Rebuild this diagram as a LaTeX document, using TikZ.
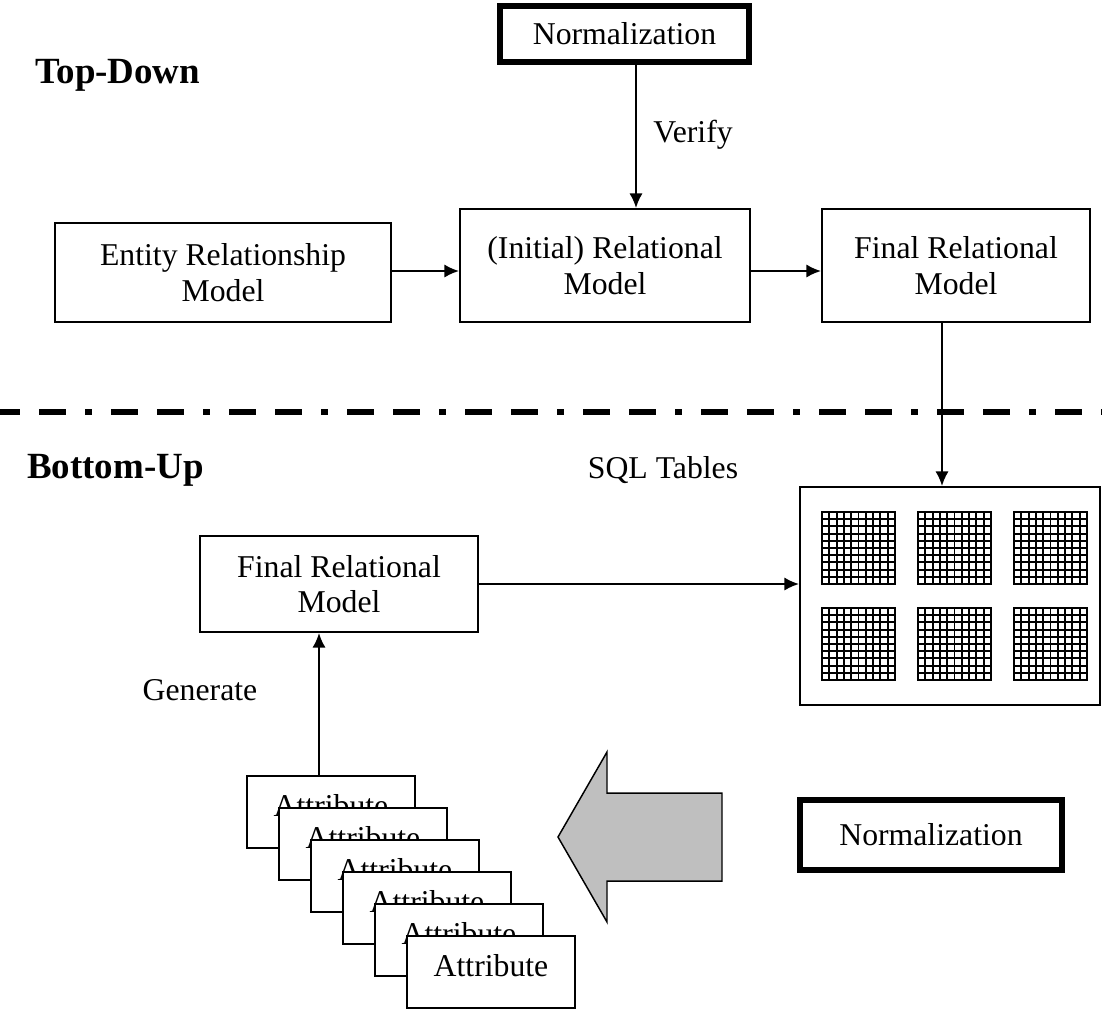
\documentclass[tikz,border=0pt]{standalone}
\usepackage{fontspec}
\setmainfont{Liberation Serif}
\usetikzlibrary{positioning,arrows.meta}
\tikzset{mybox/.style={draw,line width=1.5pt,align=center,inner sep=0pt,font=\fontsize{23.8}{26.5}\selectfont} }
\tikzset{normbox/.style={mybox,line width=4.5pt} }
\tikzset{attbox/.style={mybox,fill=white,minimum width=126pt,minimum height=54pt,text height=15.7pt,text depth=9.7pt} }
\tikzset{biglabel/.style={inner sep=0pt,anchor=west,font=\fontsize{27.7}{30}\selectfont\bfseries} }
\tikzset{lbl/.style={inner sep=0pt,font=\fontsize{23.8}{26.5}\selectfont} }
\tikzset{arr/.style={-{Latex[length=11pt,width=10pt]},line width=1.5pt} }
\tikzset{gridline/.style={line width=1.4pt,black} }

\begin{document}
\begin{tikzpicture}[x=0.75pt,y=-0.75pt]
    \useasboundingbox (0,0) rectangle (1102,1008);
    % top-down part
    \node[biglabel] (topdown) at (35,75) {Top-Down};
    \node[normbox,minimum width=186.75pt,minimum height=42pt] (normtop) at (624.5,34) {Normalization};
    \node[mybox,minimum width=252pt,minimum height=74.25pt] (er) at (223,272.5) {Entity Relationship\\Model};
    \node[mybox,minimum width=217.5pt,minimum height=84.75pt] (init) at (605,265.5) {(Initial) Relational\\Model};
    \node[mybox,minimum width=201pt,minimum height=84.75pt] (finaltop) at (956,265.5) {Final Relational\\Model};
    \node[lbl] (verify) at (693,135) {Verify};
    \coordinate (vx) at (636,0);
    \coordinate (sx) at (942,0);
    \coordinate (ay) at (0,271);
    \draw[arr] (normtop.south -| vx) -- (init.north -| vx);
    \draw[arr] (er.east |- ay) -- (init.west |- ay);
    \draw[arr] (init.east |- ay) -- (finaltop.west |- ay);
    % separator
    \draw[line width=4.5pt,dash pattern=on 20.25pt off 14.25pt on 20.25pt off 14.25pt on 5.25pt off 14.25pt,dash phase=5pt] (0,412) -- (1102,412);
    % bottom-up part
    \node[biglabel] (bottomup) at (27,470) {Bottom-Up};
    \node[lbl] (sqllbl) at (663,470) {SQL Tables};
    \node[mybox,minimum width=225pt,minimum height=163.5pt] (sql) at (950,596) {};
    \draw[arr] (finaltop.south -| sx) -- (sql.north -| sx);
    \foreach \gx in {822,918,1014}
      \foreach \gy in {512,608} {
        \foreach \i in {1,...,9} {
          \draw[gridline] (\gx+7.3*\i,\gy) -- (\gx+7.3*\i,\gy+72);
          \draw[gridline] (\gx,\gy+7.2*\i) -- (\gx+73,\gy+7.2*\i);
        }
        \draw[line width=1.8pt] (\gx,\gy) rectangle (\gx+73,\gy+72);
      }
    \node[mybox,minimum width=208.5pt,minimum height=72pt] (finalbot) at (339,584) {Final Relational\\Model};
    \draw[arr] (finalbot.east) -- (finalbot.east -| sql.west);
    \node[lbl] (generate) at (200,690) {Generate};
    \foreach \k in {0,...,5}
      \node[attbox] (att\k) at (331+32*\k,812+32*\k) {Attribute};
    \coordinate (gx) at (319,0);
    \draw[arr] (att0.north -| gx) -- (finalbot.south -| gx);
    \draw[line width=1.1pt,fill=black!25] (722,793) -- (607,793) -- (607,752) -- (558,837) -- (607,922) -- (607,881) -- (722,881) -- cycle;
    \node[normbox,minimum width=196.5pt,minimum height=52.5pt] (normbot) at (931,835) {Normalization};
\end{tikzpicture}
\end{document}
